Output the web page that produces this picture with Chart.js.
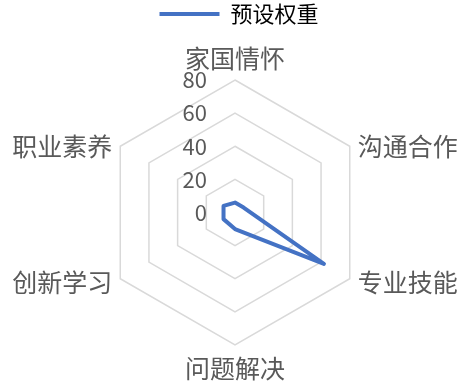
<!DOCTYPE html>
<html>
<head>
<meta charset="utf-8">
<script src="https://cdn.jsdelivr.net/npm/chart.js@4"></script>
<style>
  html, body { margin: 0; padding: 0; background: #fff; }
  #wrap { width: 459px; height: 389px; }
</style>
</head>
<body>
<div id="wrap"><canvas id="chart"></canvas></div>
<script>
// 数据
const categories = ['家国情怀', '沟通合作', '专业技能', '问题解决', '创新学习', '职业素养'];
const weights = [6, 6, 62, 10, 8, 8];
const seriesName = '预设权重';
const tickValues = [0, 20, 40, 60, 80];

const blue = '#4472C4';
const grey = '#595959';
const fontFamily = '"Noto Sans CJK SC", "Noto Sans", sans-serif';

// 刻度标签画在中心左侧, 类目标签自己画 (像Excel那样)
const labelPlugin = {
  id: 'excelLabels',
  afterDatasetsDraw(chart) {
    const scale = chart.scales.r;
    const ctx = chart.ctx;
    ctx.save();
    ctx.fillStyle = grey;

    ctx.font = '22px ' + fontFamily;
    ctx.textAlign = 'right';
    ctx.textBaseline = 'middle';
    tickValues.forEach((v) => {
      const y = scale.yCenter - scale.getDistanceFromCenterForValue(v);
      ctx.fillText(String(v), scale.xCenter - 28, y);
    });

    ctx.font = '25px ' + fontFamily;
    categories.forEach((name, i) => {
      const p = scale.getPointPositionForValue(i, scale.max);
      const dx = p.x - scale.xCenter;
      let x = p.x, y = p.y;
      if (Math.abs(dx) < 1) {
        ctx.textAlign = 'center';
        y += (p.y < scale.yCenter) ? -22 : 23;
      } else {
        ctx.textAlign = dx > 0 ? 'left' : 'right';
        x += dx > 0 ? 8 : -8;
        if (p.y > scale.yCenter) y += 4;
      }
      ctx.fillText(name, x, y);
    });
    ctx.restore();
  }
};

const data = {
  labels: categories,
  datasets: [{
    label: seriesName,
    data: weights,
    borderColor: blue,
    backgroundColor: blue,
    borderWidth: 4,
    borderJoinStyle: 'round',
    fill: false,
    pointRadius: 0,
    pointHoverRadius: 0
  }]
};

const config = {
  type: 'radar',
  data: data,
  options: {
    responsive: true,
    maintainAspectRatio: false,
    animation: false,
    layout: { padding: { left: 19, right: 0, top: 0, bottom: 0 } },
    plugins: {
      tooltip: { enabled: false },
      legend: {
        position: 'top',
        labels: {
          boxWidth: 60,
          boxHeight: 4,
          padding: 3,
          color: grey,
          font: { family: fontFamily, size: 22 },
          generateLabels: () => [{
            text: seriesName,
            fillStyle: blue,
            strokeStyle: blue,
            lineWidth: 0,
            datasetIndex: 0
          }]
        }
      }
    },
    scales: {
      r: {
        min: 0,
        max: 80,
        ticks: { display: false, stepSize: 20 },
        angleLines: { display: false },
        grid: { circular: false, color: '#d9d9d9', lineWidth: 1.5 },
        pointLabels: { display: false },
        // 固定雷达图的中心和半径
        afterFit: (scale) => {
          scale.xCenter = 235;
          scale.yCenter = 212.5;
          scale.drawingArea = 132.5;
        }
      }
    }
  },
  plugins: [labelPlugin]
};

new Chart(document.querySelector('#chart'), config);
</script>
</body>
</html>
